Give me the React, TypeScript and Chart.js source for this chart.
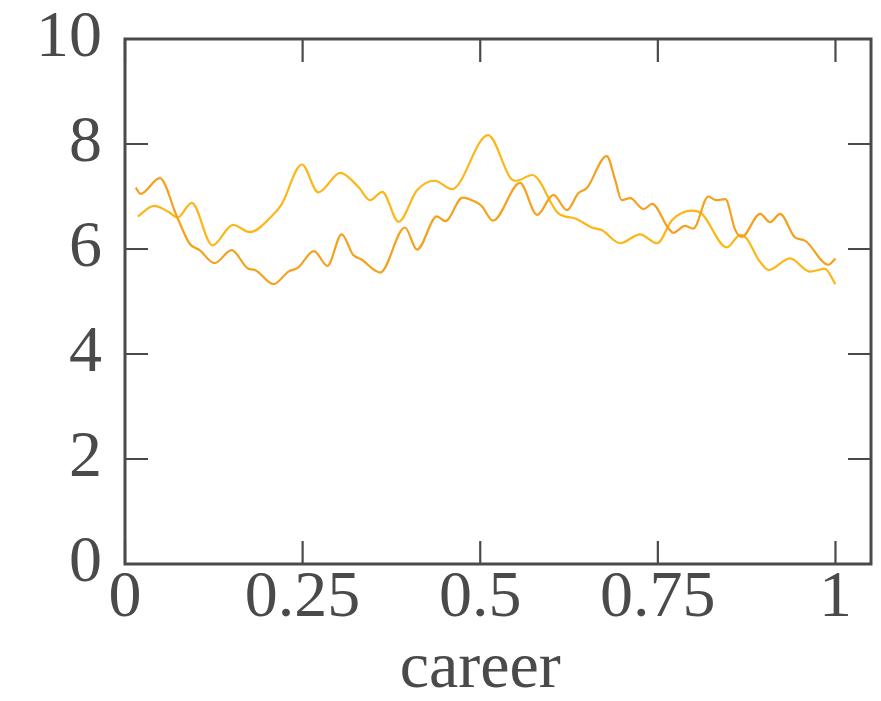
import React, { useEffect, useRef } from "react";
import { Chart, registerables } from "chart.js";

Chart.register(...registerables);

// ---- data ----
const xTickValues = [0, 0.25, 0.5, 0.75, 1];
const xTickLabels = ["0", "0.25", "0.5", "0.75", "1"];
const yTickValues = [0, 2, 4, 6, 8, 10];
const yTickLabels = ["0", "2", "4", "6", "8", "10"];
const xAxisTitle = "career";

const seriesAX = [0.015, 0.022, 0.049, 0.073, 0.091, 0.105, 0.126, 0.15, 0.173, 0.183, 0.209, 0.23, 0.243, 0.266, 0.285, 0.305, 0.321, 0.333, 0.352, 0.359, 0.394, 0.411, 0.439, 0.451, 0.475, 0.493, 0.502, 0.518, 0.556, 0.58, 0.603, 0.622, 0.638, 0.65, 0.678, 0.69, 0.699, 0.711, 0.73, 0.742, 0.765, 0.772, 0.788, 0.8, 0.821, 0.832, 0.845, 0.859, 0.868, 0.894, 0.908, 0.922, 0.943, 0.957, 0.99, 1.0];
const seriesAY = [7.17, 7.05, 7.35, 6.62, 6.1, 5.98, 5.73, 5.98, 5.63, 5.6, 5.33, 5.57, 5.64, 5.96, 5.68, 6.28, 5.89, 5.8, 5.59, 5.55, 6.41, 5.99, 6.62, 6.53, 6.98, 6.9, 6.82, 6.54, 7.26, 6.65, 7.03, 6.74, 7.06, 7.16, 7.77, 7.31, 6.93, 6.97, 6.76, 6.86, 6.39, 6.31, 6.44, 6.39, 7.0, 6.93, 6.95, 6.36, 6.23, 6.67, 6.51, 6.67, 6.22, 6.16, 5.7, 5.82];

const seriesBX = [0.018, 0.041, 0.061, 0.074, 0.094, 0.123, 0.152, 0.176, 0.206, 0.22, 0.249, 0.272, 0.303, 0.328, 0.345, 0.362, 0.385, 0.411, 0.436, 0.46, 0.511, 0.544, 0.551, 0.573, 0.61, 0.634, 0.657, 0.671, 0.697, 0.725, 0.749, 0.77, 0.798, 0.812, 0.847, 0.866, 0.875, 0.892, 0.906, 0.936, 0.964, 0.985, 1.0];
const seriesBY = [6.62, 6.82, 6.71, 6.6, 6.88, 6.07, 6.46, 6.32, 6.62, 6.84, 7.61, 7.08, 7.45, 7.19, 6.93, 7.09, 6.52, 7.12, 7.3, 7.14, 8.17, 7.33, 7.3, 7.41, 6.68, 6.58, 6.41, 6.36, 6.11, 6.28, 6.11, 6.55, 6.73, 6.67, 6.03, 6.27, 6.2, 5.79, 5.6, 5.82, 5.57, 5.62, 5.33];

const AXIS_COLOR = "#4a4a4a";
const FONT_FAMILY = "'Liberation Serif', 'DejaVu Serif', serif";
const FONT_SIZE = 66;

const framePlugin = {
  id: "frameTicks",
  afterDraw(chart: any) {
    const { ctx, chartArea } = chart;
    const xs = chart.scales.x;
    const ys = chart.scales.y;
    const { left, right, top, bottom } = chartArea;
    const len = 23;
    ctx.save();
    ctx.strokeStyle = AXIS_COLOR;
    ctx.lineWidth = 2.2;
    ctx.beginPath();
    for (const v of yTickValues) {
      const py = ys.getPixelForValue(v);
      ctx.moveTo(left, py);
      ctx.lineTo(left + len, py);
      ctx.moveTo(right, py);
      ctx.lineTo(right - len, py);
    }
    for (const v of xTickValues) {
      const px = xs.getPixelForValue(v);
      ctx.moveTo(px, bottom);
      ctx.lineTo(px, bottom - len);
      ctx.moveTo(px, top);
      ctx.lineTo(px, top + len);
    }
    ctx.stroke();
    ctx.lineWidth = 3;
    ctx.strokeRect(left, top, right - left, bottom - top);
    // x axis title centred under the middle tick
    ctx.fillStyle = AXIS_COLOR;
    ctx.font = `${FONT_SIZE}px ${FONT_FAMILY}`;
    ctx.textAlign = "center";
    ctx.textBaseline = "alphabetic";
    ctx.fillText(xAxisTitle, xs.getPixelForValue(0.5), 687);
    ctx.restore();
  },
};

export default function App() {
  const ref = useRef<HTMLCanvasElement | null>(null);
  useEffect(() => {
    if (!ref.current) return;
    const chart = new Chart(ref.current, {
      type: "line",
      data: {
        datasets: [
          {
            label: "A",
            data: seriesAX.map((x, i) => ({ x, y: seriesAY[i] })),
            borderColor: "#F5A11E",
            borderWidth: 2.2,
            pointRadius: 0,
            cubicInterpolationMode: "monotone",
            fill: false,
          },
          {
            label: "B",
            data: seriesBX.map((x, i) => ({ x, y: seriesBY[i] })),
            borderColor: "#FDB618",
            borderWidth: 2.2,
            pointRadius: 0,
            cubicInterpolationMode: "monotone",
            fill: false,
          },
        ],
      },
      options: {
        responsive: false,
        animation: false,
        layout: { padding: { left: 0, top: 39, right: 10, bottom: 0 } },
        plugins: { legend: { display: false }, tooltip: { enabled: false } },
        scales: {
          x: {
            type: "linear",
            min: 0,
            max: 1.05,
            grid: { display: false, drawTicks: false },
            border: { display: false },
            afterBuildTicks: (s: any) => {
              s.ticks = xTickValues.map((v) => ({ value: v }));
            },
            afterFit: (s: any) => {
              s.height = 701 - 564;
              s.paddingLeft = 0;
              s.paddingRight = 0;
            },
            ticks: {
              autoSkip: false,
              maxRotation: 0,
              padding: -5,
              color: AXIS_COLOR,
              font: { family: FONT_FAMILY, size: FONT_SIZE },
              callback: (v: any) => {
                const i = xTickValues.indexOf(Number(v));
                return i >= 0 ? xTickLabels[i] : "";
              },
            },
          },
          y: {
            type: "linear",
            min: 0,
            max: 10,
            grid: { display: false, drawTicks: false },
            border: { display: false },
            afterBuildTicks: (s: any) => {
              s.ticks = yTickValues.map((v) => ({ value: v }));
            },
            afterFit: (s: any) => {
              s.width = 125;
              s.paddingTop = 0;
              s.paddingBottom = 0;
            },
            ticks: {
              autoSkip: false,
              padding: 23,
              color: AXIS_COLOR,
              font: { family: FONT_FAMILY, size: FONT_SIZE },
              callback: (v: any) => {
                const i = yTickValues.indexOf(Number(v));
                return i >= 0 ? yTickLabels[i] : "";
              },
            },
          },
        },
      },
      plugins: [framePlugin],
    } as any);
    return () => chart.destroy();
  }, []);
  return (
    <div style={{ position: "absolute", left: 0, top: 0, width: 881, height: 701, background: "#fff" }}>
      <canvas ref={ref} width={881} height={701} />
    </div>
  );
}
